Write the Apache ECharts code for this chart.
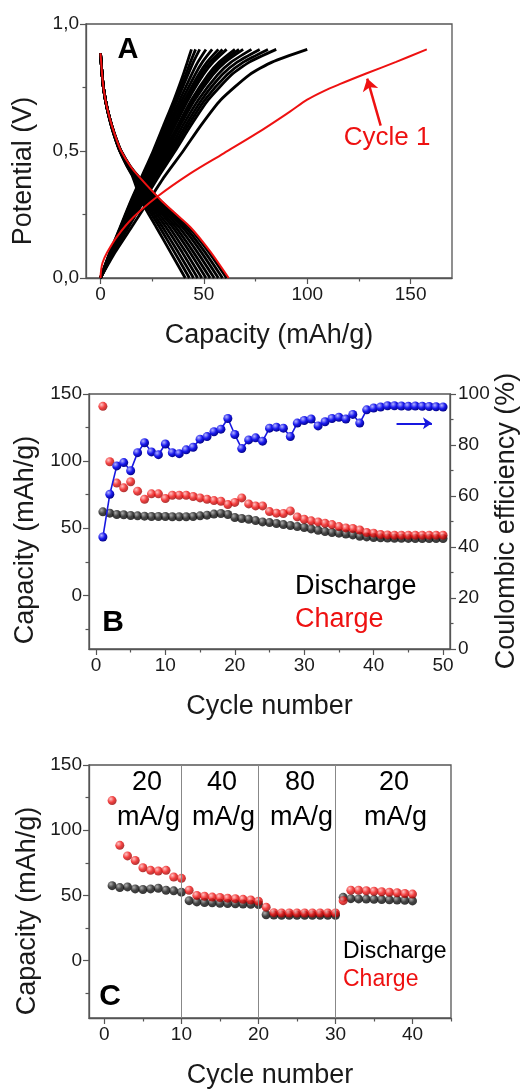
<!DOCTYPE html>
<html>
<head>
<meta charset="utf-8">
<script src="https://cdn.jsdelivr.net/npm/echarts@6/dist/echarts.min.js"></script>
<style>
html, body { margin: 0; padding: 0; background: #fff; }
#chart { width: 521px; height: 1090px; }
</style>
</head>
<body>
<div id="chart"></div>
<script>
// ---- A: charge / discharge profiles (capacity read at fixed potentials) ----
const chargeLevels = [0, 0.1, 0.2, 0.3, 0.4, 0.5, 0.6, 0.7, 0.8, 0.85, 0.9];
const chargeCurves = [
  [0, 4.5, 9.5, 14.5, 20, 25.5, 30.5, 35.5, 40, 42, 44],
  [0, 4.6, 9.7, 14.8, 20.4, 26, 31.2, 36.3, 41.2, 43.5, 46],
  [0, 4.7, 9.9, 15.1, 20.8, 26.5, 31.8, 37.1, 42.3, 44.9, 48],
  [0, 4.8, 10.2, 15.6, 21.4, 27.3, 32.8, 38.3, 44, 47.1, 51],
  [0, 4.9, 10.5, 16, 22, 28.1, 33.7, 39.5, 45.7, 49.3, 54],
  [0, 5.1, 10.8, 16.5, 22.6, 28.9, 34.7, 40.7, 47.4, 51.5, 57],
  [0, 5.2, 11, 16.8, 23, 29.4, 35.3, 41.5, 48.5, 53, 59],
  [0, 5.3, 11.2, 17.1, 23.3, 29.9, 36, 42.3, 49.7, 54.5, 61],
  [0, 5.4, 11.6, 17.7, 24.1, 30.9, 37.3, 43.9, 52, 57.4, 65],
  [0, 5.5, 11.8, 18, 24.5, 31.5, 37.9, 44.7, 53.1, 58.8, 67],
  [0, 5.6, 11.9, 18.3, 24.9, 32, 38.5, 45.5, 54.3, 60.3, 69],
  [0, 5.8, 12.3, 18.9, 25.7, 33, 39.8, 47.2, 56.6, 63.2, 73],
  [0, 6, 12.7, 19.5, 26.5, 34, 41.1, 48.8, 58.8, 66.1, 77],
  [0, 6.2, 13.1, 20.1, 27.3, 35.1, 42.4, 50.4, 61.2, 69.1, 81],
  [0, 6.3, 13.5, 20.7, 28.1, 36.1, 43.7, 52, 63.4, 72, 85],
  [0, 7, 15, 23, 31, 40, 48.5, 58, 72, 83, 100]
];
const dischargeLevels = [0.885, 0.8, 0.74, 0.67, 0.6, 0.54, 0.5, 0.44, 0.4, 0.3, 0.2, 0.1, 0];
const dischargeCurves = [
  [0, 0.8, 1.6, 3.1, 5.2, 7.5, 9.3, 12.8, 15.5, 20, 27, 34, 41],
  [0, 0.8, 1.6, 3.1, 5.2, 7.5, 9.4, 13, 15.8, 21, 28.6, 35.9, 43],
  [0, 0.8, 1.6, 3.1, 5.3, 7.6, 9.4, 13.1, 16.1, 21.9, 30.1, 37.7, 45],
  [0, 0.8, 1.6, 3.1, 5.3, 7.6, 9.5, 13.3, 16.4, 22.9, 31.7, 39.6, 47],
  [0, 0.8, 1.6, 3.1, 5.3, 7.7, 9.6, 13.4, 16.6, 23.8, 33.3, 41.4, 49],
  [0, 0.8, 1.6, 3.2, 5.4, 7.7, 9.7, 13.6, 16.9, 24.8, 34.9, 43.3, 51],
  [0, 0.8, 1.6, 3.2, 5.4, 7.8, 9.7, 13.8, 17.2, 25.7, 36.4, 45.1, 53],
  [0, 0.8, 1.6, 3.2, 5.4, 7.8, 9.8, 13.9, 17.5, 26.7, 38, 47, 55],
  [0, 0.8, 1.6, 3.2, 5.5, 7.9, 9.9, 14.1, 17.8, 27.6, 39.6, 48.9, 57],
  [0, 0.8, 1.6, 3.2, 5.5, 7.9, 9.9, 14.3, 18.1, 28.6, 41.1, 50.7, 59],
  [0, 0.8, 1.6, 3.2, 5.5, 8, 10, 14.4, 18.4, 29.5, 42.7, 52.6, 61]
];
const cycle1Charge = [[0, 0], [0.3, 0.03], [1, 0.06], [3.2, 0.1], [8, 0.163], [16, 0.24], [27.4, 0.32],
  [43.5, 0.412], [59.6, 0.491], [75.7, 0.57], [91.8, 0.656], [100, 0.702], [108, 0.736], [116, 0.764],
  [128.8, 0.806], [143, 0.851], [157.8, 0.9]];
const cycle1Discharge = [0, 0.8, 1.6, 3.2, 5.5, 8, 10, 14.5, 18.5, 30, 43.5, 53.5, 62];

// ---- B: cycling at constant current ----
const cyclesB = [1, 2, 3, 4, 5, 6, 7, 8, 9, 10, 11, 12, 13, 14, 15, 16, 17, 18, 19, 20, 21, 22, 23, 24, 25,
  26, 27, 28, 29, 30, 31, 32, 33, 34, 35, 36, 37, 38, 39, 40, 41, 42, 43, 44, 45, 46, 47, 48, 49, 50];
const dischargeB = [62.2, 61.2, 60.2, 60.0, 59.5, 59.2, 59.0, 58.7, 58.7, 58.7, 58.5, 58.5, 58.5, 58.7, 59.2,
  59.7, 60.5, 61.0, 60.2, 58.0, 57.2, 56.7, 55.7, 54.7, 54.2, 53.5, 52.7, 52.0, 51.2, 50.5, 49.5, 48.5, 47.5,
  46.8, 46.3, 45.7, 45.0, 44.0, 43.5, 43.1, 42.8, 42.7, 42.5, 42.5, 42.4, 42.3, 42.3, 42.3, 42.3, 42.3];
const chargeB = [140.8, 99.5, 83.6, 80.1, 84.6, 77.6, 71.6, 75.6, 75.6, 72.1, 74.6, 74.6, 74.6, 73.6, 72.6,
  71.6, 70.6, 70.1, 67.7, 69.2, 72.6, 68.1, 66.6, 66.6, 62.4, 61.2, 61.0, 62.9, 58.4, 56.7, 55.5, 54.7, 53.7,
  52.7, 51.2, 50.2, 49.8, 48.7, 46.8, 46.3, 45.3, 45.0, 44.8, 44.8, 44.8, 44.8, 44.8, 44.8, 44.8, 44.8];
const efficiencyB = [43.9, 60.7, 71.8, 73.1, 69.9, 77.0, 80.9, 77.3, 76.2, 80.4, 77.0, 76.6, 78.1, 79.1, 82.3,
  83.3, 85.2, 86.2, 90.4, 84.1, 78.6, 82.0, 82.8, 81.5, 86.6, 87.0, 86.6, 83.3, 88.6, 89.6, 90.2, 87.5, 89.1,
  90.4, 90.9, 90.2, 92.0, 88.6, 93.8, 94.5, 94.9, 95.4, 95.4, 95.3, 95.2, 95.3, 95.2, 95.1, 95.0, 94.9];

// ---- C: rate capability ----
const cyclesC = [1, 2, 3, 4, 5, 6, 7, 8, 9, 10, 11, 12, 13, 14, 15, 16, 17, 18, 19, 20,
  21, 22, 23, 24, 25, 26, 27, 28, 29, 30, 31, 32, 33, 34, 35, 36, 37, 38, 39, 40];
const dischargeC = [57.5, 56.0, 56.5, 55.0, 54.5, 55.0, 55.5, 54.0, 53.5, 52.5, 46.0, 45.0, 44.6, 44.3, 44.0,
  43.8, 43.6, 43.4, 43.2, 43.0, 35.2, 35.0, 34.8, 34.8, 34.8, 34.8, 34.8, 34.8, 34.8, 34.8, 48.5, 47.5, 47.3,
  47.2, 47.0, 46.8, 46.6, 46.4, 46.2, 45.8];
const chargeC = [122.7, 88.4, 80.3, 76.8, 71.2, 69.2, 68.7, 69.2, 64.1, 63.1, 54.0, 50.0, 49.4, 48.7, 48.4,
  47.9, 47.5, 47.0, 46.5, 45.5, 41.0, 36.8, 36.5, 36.5, 36.5, 36.5, 36.5, 36.5, 36.5, 36.5, 46.0, 54.0, 54.0,
  53.6, 53.2, 52.8, 52.4, 52.0, 51.5, 51.0];
const rateBreaks = [10, 20, 30];
const rateLabels = ['20', '40', '80', '20'];

// tick labels
const ticksAx = [0, 50, 100, 150], minorAx = [25, 75, 125];
const ticksCycB = [0, 10, 20, 30, 40, 50], minorCycB = [5, 15, 25, 35, 45];
const ticksCycC = [0, 10, 20, 30, 40], minorCycC = [5, 15, 25, 35, 45];
const ticksCap = [0, 50, 100, 150], minorCap = [-25, 25, 75, 125];

const FONT = 'Liberation Sans, Arial, sans-serif';
const FRAME = '#555';
const INK = '#1a1a1a';
const RED = '#ee1111';
const BLUE = '#1818e0';

function ball(c0, c1, c2) {
  return { type: 'radial', x: 0.35, y: 0.32, r: 0.75,
    colorStops: [{ offset: 0, color: c0 }, { offset: 0.5, color: c1 }, { offset: 1, color: c2 }] };
}
const redBall = ball('#ffb4b4', '#f01010', '#8a0000');
const blackBall = ball('#9a9a9a', '#151515', '#000');
const blueBall = ball('#b4b4ff', '#1a1aee', '#00007a');

function mainAxis(gridIndex, min, max, ticks, extra) {
  return Object.assign({
    type: 'value', gridIndex, min, max,
    splitLine: { show: false },
    axisLine: { show: true, onZero: false, lineStyle: { color: FRAME, width: 1.3 } },
    axisTick: { show: true, length: 6, customValues: ticks, lineStyle: { color: FRAME, width: 1.2 } },
    axisLabel: { customValues: ticks, color: INK, fontSize: 19, fontFamily: FONT, margin: 7 }
  }, extra || {});
}
function minorAxis(gridIndex, min, max, values, position) {
  return {
    type: 'value', gridIndex, min, max, position,
    splitLine: { show: false },
    axisLine: { show: false, onZero: false },
    axisLabel: { show: false },
    axisTick: { show: true, length: 3.5, customValues: values, lineStyle: { color: FRAME, width: 1.2 } }
  };
}
const xName = {
  nameLocation: 'middle', nameGap: 44,
  nameTextStyle: { fontSize: 27, fontFamily: FONT, color: INK }
};

const xAxis = [
  mainAxis(0, -7, 170, ticksAx, Object.assign({ name: 'Capacity (mAh/g)' }, xName)),
  minorAxis(0, -7, 170, minorAx, 'bottom'),
  mainAxis(1, -1, 51, ticksCycB, Object.assign({ name: 'Cycle number' }, xName)),
  minorAxis(1, -1, 51, minorCycB, 'bottom'),
  mainAxis(2, -2, 45, ticksCycC, Object.assign({ name: 'Cycle number' }, xName)),
  minorAxis(2, -2, 45, minorCycC, 'bottom')
];
const yAxis = [
  {
    type: 'value', gridIndex: 0, min: 0, max: 1, interval: 0.5,
    splitLine: { show: false },
    axisLine: { show: true, onZero: false, lineStyle: { color: FRAME, width: 1.3 } },
    axisTick: { show: true, length: 6, lineStyle: { color: FRAME, width: 1.2 } },
    minorTick: { show: true, splitNumber: 2, length: 3.5, lineStyle: { color: FRAME, width: 1.2 } },
    axisLabel: { color: INK, fontSize: 19, fontFamily: FONT, margin: 7,
      formatter: v => v.toFixed(1).replace('.', ',') }
  },
  mainAxis(1, -40, 150, ticksCap),
  minorAxis(1, -40, 150, minorCap, 'left'),
  {
    type: 'value', gridIndex: 1, min: 0, max: 100, interval: 20, position: 'right',
    splitLine: { show: false },
    axisLine: { show: true, onZero: false, lineStyle: { color: FRAME, width: 1.3 } },
    axisTick: { show: true, length: 6, lineStyle: { color: FRAME, width: 1.2 } },
    minorTick: { show: true, splitNumber: 2, length: 3.5, lineStyle: { color: FRAME, width: 1.2 } },
    axisLabel: { color: INK, fontSize: 19, fontFamily: FONT, margin: 8 }
  },
  mainAxis(2, -44, 150, ticksCap),
  minorAxis(2, -44, 150, minorCap, 'left')
];

const series = [];

// A
chargeCurves.forEach(c => series.push({
  type: 'line', xAxisIndex: 0, yAxisIndex: 0, symbol: 'none', smooth: 0.2, silent: true, z: 2,
  data: c.map((cap, i) => [cap, chargeLevels[i]]),
  lineStyle: { color: '#000', width: 2.8 }
}));
dischargeCurves.forEach(c => series.push({
  type: 'line', xAxisIndex: 0, yAxisIndex: 0, symbol: 'none', smooth: 0.15, silent: true, z: 2,
  data: c.map((cap, i) => [cap, dischargeLevels[i]]),
  lineStyle: { color: '#000', width: 2.8 }
}));
series.push({
  type: 'line', xAxisIndex: 0, yAxisIndex: 0, symbol: 'none', smooth: 0.35, silent: true, z: 3,
  data: cycle1Charge,
  lineStyle: { color: RED, width: 2 },
  markLine: {
    silent: true, symbol: ['none', 'arrow'], symbolSize: 12, label: { show: false },
    lineStyle: { color: RED, width: 2.5, type: 'solid' },
    data: [[{ coord: [135.5, 0.6] }, { coord: [129, 0.785] }]]
  }
});
series.push({
  type: 'line', xAxisIndex: 0, yAxisIndex: 0, symbol: 'none', smooth: 0.15, silent: true, z: 3,
  data: cycle1Discharge.map((cap, i) => [cap, dischargeLevels[i]]),
  lineStyle: { color: RED, width: 2 }
});

// B
series.push({
  type: 'scatter', xAxisIndex: 2, yAxisIndex: 1, symbolSize: 9, silent: true, z: 2,
  data: cyclesB.map((c, i) => [c, dischargeB[i]]), itemStyle: { color: blackBall }
});
series.push({
  type: 'scatter', xAxisIndex: 2, yAxisIndex: 1, symbolSize: 9, silent: true, z: 3,
  data: cyclesB.map((c, i) => [c, chargeB[i]]), itemStyle: { color: redBall }
});
series.push({
  type: 'line', xAxisIndex: 2, yAxisIndex: 3, symbol: 'circle', symbolSize: 9, silent: true, z: 4,
  data: cyclesB.map((c, i) => [c, efficiencyB[i]]),
  itemStyle: { color: blueBall }, lineStyle: { color: BLUE, width: 1.6 },
  markLine: {
    silent: true, symbol: ['none', 'arrow'], symbolSize: 9, label: { show: false },
    lineStyle: { color: BLUE, width: 1.8, type: 'solid' },
    data: [[{ coord: [43.3, 88.5] }, { coord: [48.4, 88.5] }]]
  }
});

// C
series.push({
  type: 'scatter', xAxisIndex: 4, yAxisIndex: 4, symbolSize: 9, silent: true, z: 2,
  data: cyclesC.map((c, i) => [c, dischargeC[i]]), itemStyle: { color: blackBall },
  markLine: {
    silent: true, symbol: ['none', 'none'], label: { show: false },
    lineStyle: { color: '#888', width: 1, type: 'solid' },
    data: rateBreaks.map(x => ({ xAxis: x }))
  }
});
series.push({
  type: 'scatter', xAxisIndex: 4, yAxisIndex: 4, symbolSize: 9, silent: true, z: 3,
  data: cyclesC.map((c, i) => [c, chargeC[i]]), itemStyle: { color: redBall }
});

function txt(x, y, text, size, color, opts) {
  return Object.assign({
    type: 'text', x, y, silent: true,
    style: Object.assign({ text, fill: color || INK, fontSize: size, fontFamily: FONT,
      textAlign: 'center', textVerticalAlign: 'middle' }, (opts && opts.style) || {})
  }, (opts && opts.el) || {});
}
const rateX = [147, 222, 300, 394];
const graphic = [
  txt(128, 50, 'A', 29, '#000', { style: { fontWeight: 'bold' } }),
  txt(113, 623, 'B', 30, '#000', { style: { fontWeight: 'bold' } }),
  txt(110, 997, 'C', 30, '#000', { style: { fontWeight: 'bold' } }),
  txt(24, 171, 'Potential (V)', 27, INK, { el: { rotation: Math.PI / 2 } }),
  txt(26, 540, 'Capacity (mAh/g)', 27, INK, { el: { rotation: Math.PI / 2 } }),
  txt(507, 521, 'Coulombic efficiency (%)', 27, INK, { el: { rotation: Math.PI / 2 } }),
  txt(28, 911, 'Capacity (mAh/g)', 27, INK, { el: { rotation: Math.PI / 2 } }),
  txt(387, 138, 'Cycle 1', 26, RED),
  txt(295, 587, 'Discharge', 27, '#000', { style: { textAlign: 'left' } }),
  txt(295, 620, 'Charge', 27, RED, { style: { textAlign: 'left' } }),
  txt(343, 952, 'Discharge', 23, '#000', { style: { textAlign: 'left' } }),
  txt(343, 980, 'Charge', 23, RED, { style: { textAlign: 'left' } })
];
rateLabels.forEach((r, i) => {
  graphic.push(txt(rateX[i], 783, r, 27, '#000'));
  graphic.push(txt(rateX[i] + 1.5, 818, 'mA/g', 27, '#000'));
});

const chart = echarts.init(document.getElementById('chart'), null, { renderer: 'canvas' });
chart.setOption({
  animation: false,
  backgroundColor: '#fff',
  grid: [
    { left: 86, top: 24, width: 366, height: 254, show: true, borderColor: FRAME, borderWidth: 1.3 },
    { left: 89, top: 394, width: 361, height: 255, show: true, borderColor: FRAME, borderWidth: 1.3 },
    { left: 89, top: 765, width: 362, height: 255, show: true, borderColor: FRAME, borderWidth: 1.3 }
  ],
  xAxis,
  yAxis,
  series,
  graphic
});
</script>
</body>
</html>
